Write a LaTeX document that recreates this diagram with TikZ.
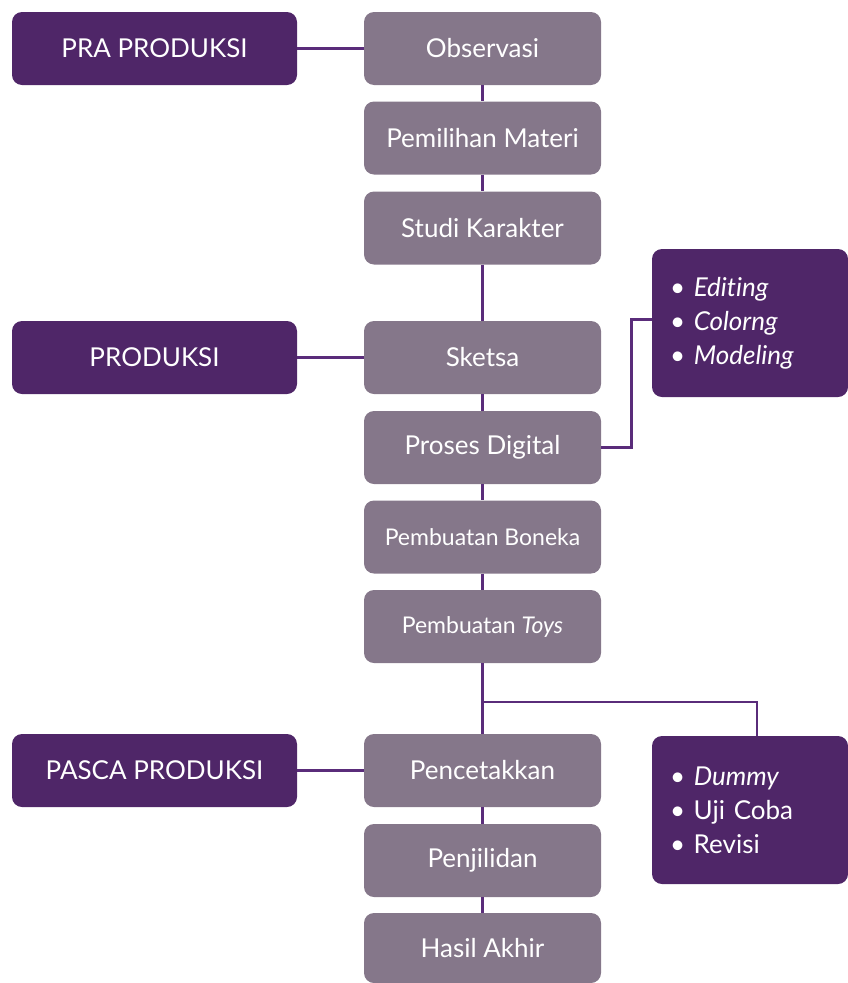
\documentclass[tikz,border=0pt]{standalone}
\usepackage{fontspec}
\setmainfont{Lato}
\definecolor{darkp}{HTML}{4F2668}
\definecolor{grayp}{HTML}{85778A}
\definecolor{linep}{HTML}{5A2C7A}
\begin{document}
\begin{tikzpicture}[x=1pt,y=-1pt,
  base/.style={rounded corners=10pt, text=white, inner sep=0pt, font=\fontsize{26}{30}\selectfont},
  lbox/.style={base, fill=darkp, minimum width=285pt, minimum height=73pt},
  cbox/.style={base, fill=grayp, minimum width=237pt, minimum height=73pt},
  rbox/.style={base, fill=darkp, minimum width=196pt, minimum height=148pt, text width=160pt, align=left, font=\fontsize{26}{34}\selectfont},
  small/.style={font=\fontsize{23}{26}\selectfont},
  conn/.style={draw=linep, line width=2.4pt}]
\useasboundingbox (0,0) rectangle (848,983);
% left boxes
\node[lbox] (pra) at (154.5,48.5) {PRA PRODUKSI};
\node[lbox] (prod) at (154.5,357.5) {PRODUKSI};
\node[lbox] (pasca) at (154.5,770.5) {PASCA PRODUKSI};
% center boxes
\node[cbox] (obs) at (482.5,48.5) {Observasi};
\node[cbox] (pem) at (482.5,138) {Pemilihan Materi};
\node[cbox] (stu) at (482.5,228) {Studi Karakter};
\node[cbox] (ske) at (482.5,357.5) {Sketsa};
\node[cbox] (pro) at (482.5,447.5) {Proses Digital};
\node[cbox, small] (bon) at (482.5,537) {Pembuatan Boneka};
\node[cbox, small] (toy) at (482.5,626.5) {Pembuatan \textit{Toys}};
\node[cbox] (cet) at (482.5,770.5) {Pencetakkan};
\node[cbox] (jil) at (482.5,860.5) {Penjilidan};
\node[cbox, minimum height=70pt] (has) at (482.5,948) {Hasil Akhir};
% right boxes
\node[rbox] (edit) at (750,323) {• \textit{Edit\kern0pt ing}\\• \textit{Colorng}\\• \textit{Modeling}};
\node[rbox] (dum) at (750,810) {• \textit{Dummy}\\• Uji Coba\\• Revisi};
% connectors
\draw[conn] (pra.east) -- (obs.west);
\draw[conn] (prod.east) -- (ske.west);
\draw[conn] (pasca.east) -- (cet.west);
\draw[conn] (obs.south) -- (pem.north);
\draw[conn] (pem.south) -- (stu.north);
\draw[conn] (stu.south) -- (ske.north);
\draw[conn] (ske.south) -- (pro.north);
\draw[conn] (pro.south) -- (bon.north);
\draw[conn] (bon.south) -- (toy.north);
\draw[conn] (toy.south) -- (cet.north);
\draw[conn] (cet.south) -- (jil.north);
\draw[conn] (jil.south) -- (has.north);
\coordinate (pb) at (631.5,447.5);
\coordinate (pt) at (631.5,319.5);
\draw[conn] (pro.east) -- (pb) -- (pt) -- (pt -| edit.west);
\coordinate (br) at (482.5,702);
\coordinate (bc) at (757,702);
\draw[conn] (br) -- (bc) -- (bc |- dum.north);
\end{tikzpicture}
\end{document}
